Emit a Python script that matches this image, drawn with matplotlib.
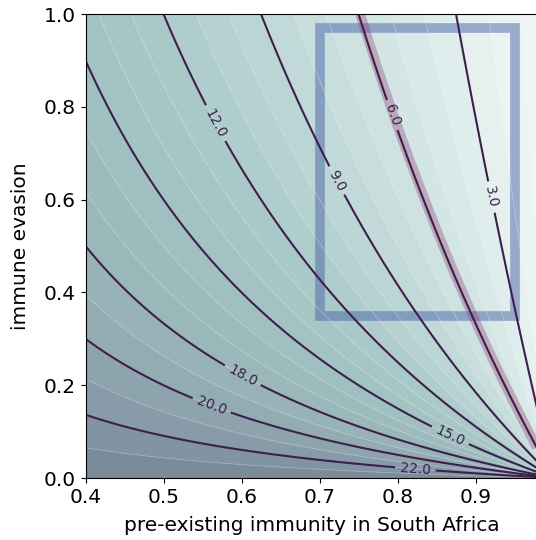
import numpy as np
import matplotlib.pyplot as plt
from matplotlib.colors import LinearSegmentedColormap
from matplotlib.patches import Rectangle

# surface: required factor = scale * (1-x) / (1 - x + x*y)
scale = 24.0
x_range = [0.4, 0.98]
y_range = [0.0, 1.0]

line_levels = [3, 6, 9, 12, 15, 18, 20, 22]
fill_levels = np.arange(0, 26)
band_level = 5.95

# highlighted region (immunity, evasion)
box_x = [0.70, 0.95]
box_y = [0.35, 0.97]

# where the contour labels sit
label_spots = [(0.567, 0.765), (0.723, 0.642), (0.793, 0.782), (0.922, 0.606),
               (0.603, 0.226), (0.563, 0.162), (0.868, 0.093), (0.823, 0.022)]

cmap_colors = ["#f3f8f8", "#e1eeed", "#cfe3e2", "#bcd6d5", "#a9c9c8",
               "#a0bfc0", "#96b2b6", "#8799a6", "#6f7e90"]
cmap = LinearSegmentedColormap.from_list("evasion", cmap_colors)

x = np.linspace(x_range[0], x_range[1], 500)
y = np.linspace(y_range[0], y_range[1], 500)
X, Y = np.meshgrid(x, y)
Z = scale * (1 - X) / (1 - X + X * Y)

fig = plt.figure(figsize=(5.36, 5.4), dpi=100)
ax = fig.add_axes([85.5 / 536, 62 / 540, 452.4 / 536, 464 / 540])

ax.contourf(X, Y, Z, levels=fill_levels, cmap=cmap)
# faint seams between the filled bands
ax.contour(X, Y, Z, levels=fill_levels, colors="white", linewidths=0.5, alpha=0.4)

# thick highlighted contour
ax.contour(X, Y, Z, levels=[band_level], colors="#8e3b6e", linewidths=7, alpha=0.35)

cs = ax.contour(X, Y, Z, levels=line_levels, colors="#3d1f4e", linewidths=1.5)
ax.clabel(cs, fmt="%.1f", fontsize=10, manual=label_spots, inline=True)

ax.add_patch(Rectangle((box_x[0], box_y[0]), box_x[1] - box_x[0], box_y[1] - box_y[0],
                       fill=False, edgecolor="#4a64a8", linewidth=7, alpha=0.5))

ax.set_xlim(x_range)
ax.set_ylim(y_range)
ax.set_xticks([0.4, 0.5, 0.6, 0.7, 0.8, 0.9])
ax.set_yticks([0.0, 0.2, 0.4, 0.6, 0.8, 1.0])
ax.tick_params(labelsize=14.5)
ax.spines["right"].set_visible(False)
ax.set_xlabel("pre-existing immunity in South Africa", fontsize=14.5, labelpad=7)
ax.set_ylabel("immune evasion", fontsize=14.5, labelpad=10)

fig.savefig("out.png", dpi=100)
